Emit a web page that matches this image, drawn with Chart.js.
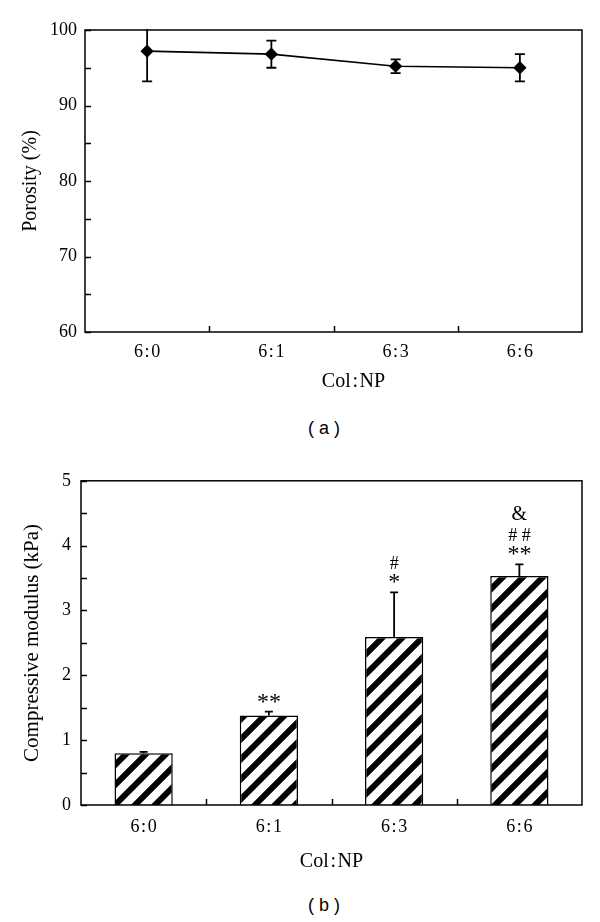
<!DOCTYPE html>
<html>
<head>
<meta charset="utf-8">
<script src="https://cdn.jsdelivr.net/npm/chart.js@4.4.1/dist/chart.umd.min.js"></script>
<style>
  html, body { margin: 0; padding: 0; background: #fff; }
  body { width: 600px; height: 922px; position: relative; overflow: hidden; }
  canvas { position: absolute; left: 0; }
  #chartA { top: 0; }
  #chartB { top: 460px; }
  .caption { position: absolute; width: 100px; left: 274px; text-align: center;
             font-family: 'Liberation Sans', Arial, sans-serif; font-size: 18px; color: #000; line-height: 20px; }
</style>
</head>
<body>
<canvas id="chartA" width="600" height="400"></canvas>
<div class="caption" style="top:418px">( a )</div>
<canvas id="chartB" width="600" height="420"></canvas>
<div class="caption" style="top:895px">( b )</div>
<script>
const categories = ['6\u200A:\u200A0', '6\u200A:\u200A1', '6\u200A:\u200A3', '6\u200A:\u200A6'];
const porosity = [97.2, 96.8, 95.2, 95.0];
const porositySd = [4.0, 1.8, 0.9, 1.8];
const modulus = [0.80, 1.38, 2.59, 3.53];
const modulusSd = [0.02, 0.06, 0.69, 0.18];
// significance marks, listed bottom to top
const marks = [[], ['**'], ['*', '#'], ['**', '# #', '&']];

const serif = "'Liberation Serif', 'DejaVu Serif', serif";
Chart.defaults.font.family = serif;
Chart.defaults.color = '#000';

const tickFont = { family: serif, size: 18 };
const titleFont = { family: serif, size: 20 };
const xTitle = 'Col\u200A:\u200ANP';

// frame round the plot area + short ticks pointing inwards
const framePlugin = {
    id: 'frame',
    afterDraw(chart) {
        const { ctx, chartArea: a, scales: { x, y } } = chart;
        ctx.save();
        ctx.strokeStyle = '#000';
        ctx.lineWidth = 1.5;
        ctx.strokeRect(a.left, a.top, a.right - a.left, a.bottom - a.top);
        ctx.beginPath();
        y.ticks.forEach(t => {
            const py = Math.round(y.getPixelForValue(t.value)) + 0.5;
            ctx.moveTo(a.left, py); ctx.lineTo(a.left + 6, py);
        });
        for (let i = 1; i < x.ticks.length; i++) {
            const px = Math.round((x.getPixelForValue(i - 1) + x.getPixelForValue(i)) / 2) + 0.5;
            ctx.moveTo(px, a.bottom); ctx.lineTo(px, a.bottom - 6);
        }
        ctx.stroke();
        ctx.restore();
    }
};

function drawErrors(chart, opts) {
    const { ctx, chartArea: a, scales: { x, y } } = chart;
    const vals = chart.data.datasets[0].data;
    ctx.save();
    ctx.beginPath();
    ctx.rect(a.left, a.top - 1, a.right - a.left, a.bottom - a.top + 2);
    ctx.clip();
    ctx.strokeStyle = '#000';
    ctx.lineWidth = 1.8;
    ctx.beginPath();
    vals.forEach((v, i) => {
        const px = x.getPixelForValue(i);
        const hi = y.getPixelForValue(v + opts.sd[i]);
        const lo = opts.both ? y.getPixelForValue(v - opts.sd[i]) : y.getPixelForValue(v);
        ctx.moveTo(px, lo); ctx.lineTo(px, hi);
        ctx.moveTo(px - opts.cap, hi); ctx.lineTo(px + opts.cap, hi);
        if (opts.both) { ctx.moveTo(px - opts.cap, lo); ctx.lineTo(px + opts.cap, lo); }
    });
    ctx.stroke();
    ctx.restore();
}

const errorPlugin = {
    id: 'errorBars',
    beforeDatasetsDraw(chart, args, opts) { if (opts.behind) drawErrors(chart, opts); },
    afterDatasetsDraw(chart, args, opts) { if (!opts.behind) drawErrors(chart, opts); }
};

const marksPlugin = {
    id: 'marks',
    afterDatasetsDraw(chart, args, opts) {
        if (!opts.labels) return;
        const { ctx, scales: { x, y } } = chart;
        const vals = chart.data.datasets[0].data;
        const sizes = { '*': 24, '#': 18, '&': 20 };
        const gaps = { '*': 6, '#': 5, '&': 11 };
        ctx.save();
        ctx.fillStyle = '#000';
        ctx.textAlign = 'center';
        ctx.textBaseline = 'alphabetic';
        opts.labels.forEach((lines, i) => {
            const px = x.getPixelForValue(i);
            let cy = y.getPixelForValue(vals[i] + opts.sd[i]) - 6;
            lines.forEach(txt => {
                ctx.font = sizes[txt[0]] + 'px ' + serif;
                const m = ctx.measureText(txt);
                const h = m.actualBoundingBoxAscent + m.actualBoundingBoxDescent;
                cy -= h / 2 + gaps[txt[0]] / 2;
                ctx.fillText(txt, px, cy + (m.actualBoundingBoxAscent - m.actualBoundingBoxDescent) / 2);
                cy -= h / 2 + gaps[txt[0]] / 2;
            });
        });
        ctx.restore();
    }
};

function hatch() {
    const c = document.createElement('canvas');
    c.width = 20; c.height = 20;
    const g = c.getContext('2d');
    g.fillStyle = '#fff';
    g.fillRect(0, 0, 20, 20);
    g.strokeStyle = '#000';
    g.lineWidth = 6;
    g.beginPath();
    [0, 20, 40].forEach(k => { g.moveTo(k - 25, 25); g.lineTo(k + 5, -5); });
    g.stroke();
    return g.createPattern(c, 'repeat');
}

new Chart(document.getElementById('chartA'), {
    type: 'line',
    data: {
        labels: categories,
        datasets: [{
            data: porosity,
            borderColor: '#000',
            borderWidth: 1.6,
            pointStyle: 'rectRot',
            pointRadius: 5.5,
            pointBackgroundColor: '#000',
            pointBorderColor: '#000',
            tension: 0
        }]
    },
    options: {
        responsive: false,
        animation: false,
        layout: { padding: { top: 30, right: 18, left: 0, bottom: 0 } },
        plugins: {
            legend: { display: false },
            tooltip: { enabled: false },
            errorBars: { sd: porositySd, both: true, behind: true, cap: 5 }
        },
        scales: {
            x: {
                offset: true,
                grid: { display: false, drawTicks: false },
                border: { display: false },
                ticks: { font: tickFont, padding: 9 },
                title: { display: true, text: '\u2002\u2002\u2002\u2002' + xTitle, font: titleFont, padding: { top: 0, bottom: 6 } },
                afterFit: s => { s.height = 68; }
            },
            y: {
                min: 60, max: 100,
                grid: { display: false, drawTicks: false },
                border: { display: false },
                ticks: { stepSize: 5, font: tickFont, padding: 8, callback: v => v % 10 === 0 ? v : '' },
                title: { display: true, text: 'Porosity (%)', font: titleFont, padding: { top: 19, bottom: 0 } },
                afterFit: s => { s.width = 85; }
            }
        }
    },
    plugins: [framePlugin, errorPlugin]
});

new Chart(document.getElementById('chartB'), {
    type: 'bar',
    data: {
        labels: categories,
        datasets: [{
            data: modulus,
            backgroundColor: hatch(),
            borderColor: '#000',
            borderWidth: 1.5,
            categoryPercentage: 1,
            barPercentage: 0.465
        }]
    },
    options: {
        responsive: false,
        animation: false,
        layout: { padding: { top: 15, right: 18, left: 0, bottom: 0 } },
        plugins: {
            legend: { display: false },
            tooltip: { enabled: false },
            errorBars: { sd: modulusSd, both: false, behind: false, cap: 4 },
            marks: { labels: marks, sd: modulusSd }
        },
        scales: {
            x: {
                grid: { display: false, drawTicks: false },
                border: { display: false },
                ticks: { font: tickFont, padding: 11 },
                title: { display: true, text: xTitle, font: titleFont, padding: { top: 0, bottom: 6 } },
                afterFit: s => { s.height = 75; }
            },
            y: {
                min: 0, max: 5,
                grid: { display: false, drawTicks: false },
                border: { display: false },
                ticks: { stepSize: 0.5, font: tickFont, padding: 10, callback: v => Number.isInteger(v) ? v : '' },
                title: { display: true, text: 'Compressive modulus (kPa)', font: { family: serif, size: 21 }, padding: { top: 20, bottom: 0 } },
                afterFit: s => { s.width = 81; }
            }
        }
    },
    plugins: [framePlugin, errorPlugin, marksPlugin]
});
</script>
</body>
</html>
